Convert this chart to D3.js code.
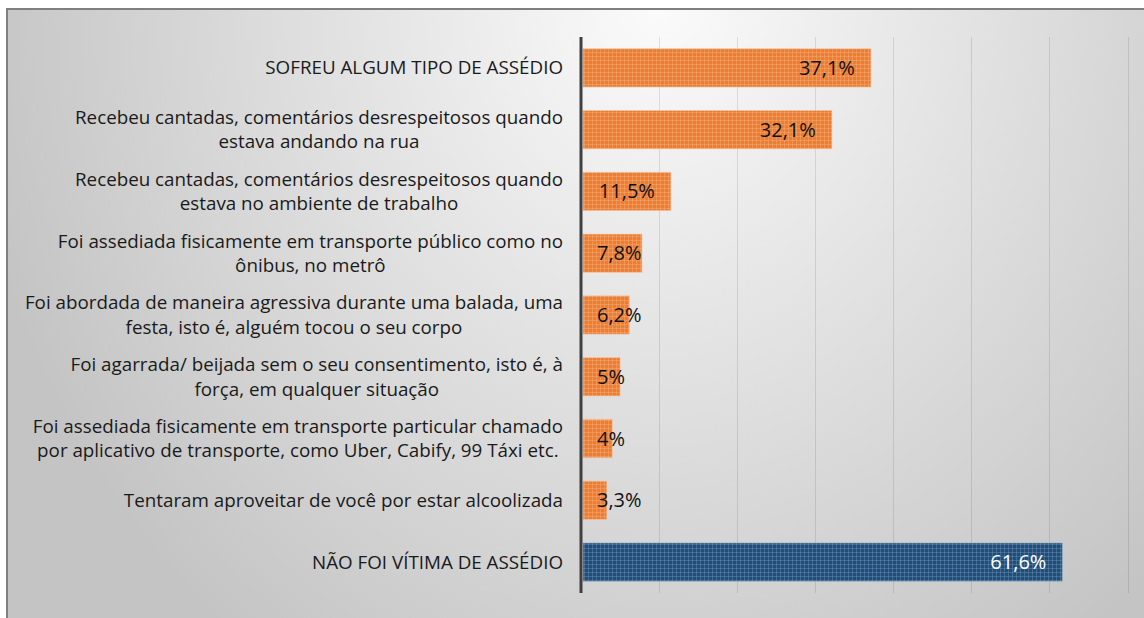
<!DOCTYPE html>
<html>
<head>
<meta charset="utf-8">
<script src="https://cdn.jsdelivr.net/npm/d3@7"></script>
<style>
  html, body { margin: 0; padding: 0; background: #fff; }
  svg { display: block; }
</style>
</head>
<body>
<svg id="chart"></svg>
<script>
// categories, top to bottom (| marks a line break)
const categorias = [
    "SOFREU ALGUM TIPO DE ASSÉDIO",
    "Recebeu cantadas, comentários desrespeitosos quando|estava andando na rua",
    "Recebeu cantadas, comentários desrespeitosos quando|estava no ambiente de trabalho",
    "Foi assediada fisicamente em transporte público como no|ônibus, no metrô",
    "Foi abordada de maneira agressiva durante uma balada, uma|festa, isto é, alguém tocou o seu corpo",
    "Foi agarrada/ beijada sem o seu consentimento, isto é, à|força, em qualquer situação",
    "Foi assediada fisicamente em transporte particular chamado|por aplicativo de transporte, como Uber, Cabify, 99 Táxi etc.",
    "Tentaram aproveitar de você por estar alcoolizada",
    "NÃO FOI VÍTIMA DE ASSÉDIO"
];
const valores = [37.1, 32.1, 11.5, 7.8, 6.2, 5, 4, 3.3, 61.6];
const grupos = ["sim", "sim", "sim", "sim", "sim", "sim", "sim", "sim", "nao"];
const xTicks = [0, 10, 20, 30, 40, 50, 60, 70];

const W = 1144, H = 618;
const margin = { top: 37, right: 16, bottom: 25, left: 581 };

const svg = d3.select("#chart").attr("width", W).attr("height", H);
const defs = svg.append("defs");

// background gradient
const bg = defs.append("radialGradient")
    .attr("id", "bg")
    .attr("gradientUnits", "userSpaceOnUse")
    .attr("cx", 660).attr("cy", 0).attr("r", 700)
    .attr("gradientTransform", "translate(660,0) scale(1,1.15) translate(-660,0)");
bg.append("stop").attr("offset", 0).attr("stop-color", "#fbfbfb");
bg.append("stop").attr("offset", 1).attr("stop-color", "#c4c4c4");

// small grid fill pattern for the bars
function makePattern(id, base, light) {
    const p = defs.append("pattern")
        .attr("id", id)
        .attr("patternUnits", "userSpaceOnUse")
        .attr("width", 4).attr("height", 4);
    p.append("rect").attr("width", 4).attr("height", 4).attr("fill", base);
    p.append("rect").attr("width", 4).attr("height", 1).attr("fill", light).attr("opacity", 0.3);
    p.append("rect").attr("width", 1).attr("height", 4).attr("fill", light).attr("opacity", 0.3);
}
makePattern("pSim", "#ED7D31", "#F8C4A0");
makePattern("pNao", "#1F4E79", "#8FAACB");

svg.append("rect")
    .attr("x", 7).attr("y", 9)
    .attr("width", 1160).attr("height", 640)
    .attr("fill", "url(#bg)")
    .attr("stroke", "#7f7f7f")
    .attr("stroke-width", 2);

const x = d3.scaleLinear()
    .domain([0, 70])
    .range([margin.left, 1128]);

const y = d3.scaleBand()
    .domain(d3.range(categorias.length))
    .range([margin.top, 593])
    .paddingInner(0.38)
    .paddingOuter(0.19);

// vertical gridlines
svg.append("g")
    .selectAll("line")
    .data(xTicks.slice(1))
    .enter().append("line")
    .attr("x1", d => x(d)).attr("x2", d => x(d))
    .attr("y1", margin.top).attr("y2", 593)
    .attr("stroke", "#000")
    .attr("stroke-opacity", 0.1)
    .attr("stroke-width", 1)
    .attr("shape-rendering", "crispEdges");

// bars
svg.append("g")
    .selectAll("rect")
    .data(valores)
    .enter().append("rect")
    .attr("x", x(0) + 2)
    .attr("y", (d, i) => y(i))
    .attr("width", d => x(d) - x(0) - 2)
    .attr("height", y.bandwidth())
    .attr("fill", (d, i) => grupos[i] === "nao" ? "url(#pNao)" : "url(#pSim)")
    .attr("stroke", (d, i) => grupos[i] === "nao" ? "#9fb6d0" : "#f6c3a0")
    .attr("stroke-opacity", 0.6)
    .attr("stroke-width", 1);

// category axis line
svg.append("line")
    .attr("x1", x(0)).attr("x2", x(0))
    .attr("y1", margin.top).attr("y2", 593)
    .attr("stroke", "#404040")
    .attr("stroke-width", 3);

// category labels: right aligned block, lines centred
const labelRight = 563;
const lineGap = 24.5;
categorias.forEach((c, i) => {
    const lines = c.split("|");
    const cy = y(i) + y.bandwidth() / 2;
    const g = svg.append("g");
    const texts = lines.map((t, k) => g.append("text")
        .attr("y", cy + (k - (lines.length - 1) / 2) * lineGap)
        .attr("dy", "0.35em")
        .attr("text-anchor", "middle")
        .attr("font-family", "'Open Sans', sans-serif")
        .attr("font-size", "18.8px")
        .attr("fill", "#1a1a1a")
        .text(t));
    const wMax = d3.max(texts, t => t.node().getComputedTextLength());
    texts.forEach(t => t.attr("x", labelRight - wMax / 2));
});

// value labels
const fmt = v => String(v).replace(".", ",") + "%";
svg.append("g")
    .selectAll("text")
    .data(valores)
    .enter().append("text")
    .attr("y", (d, i) => y(i) + y.bandwidth() / 2)
    .attr("dy", "0.35em")
    .attr("font-family", "'Open Sans', sans-serif")
    .attr("font-size", "20px")
    .attr("fill", (d, i) => grupos[i] === "nao" ? "#ffffff" : "#111111")
    .text(d => fmt(d))
    .each(function (d) {
        const w = this.getComputedTextLength();
        let start = x(d) - 16 - w;
        if (start < x(0) + 16) start = x(0) + 16;
        d3.select(this).attr("x", start);
    });
</script>
</body>
</html>
